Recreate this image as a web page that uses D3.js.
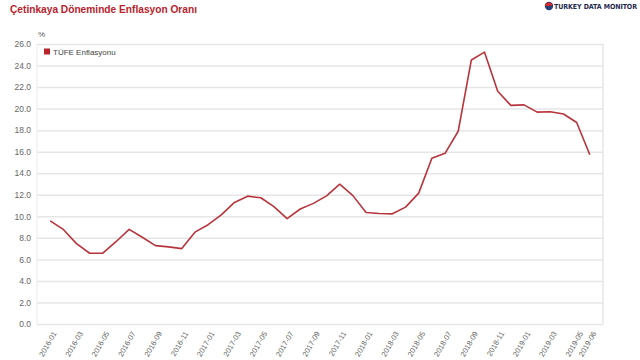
<!DOCTYPE html>
<html><head><meta charset="utf-8">
<script src="https://cdn.jsdelivr.net/npm/d3@7"></script>
<style>body{margin:0;background:#fff}svg{display:block}</style>
</head><body>
<svg id="c" width="640" height="360"></svg>
<script>
const months = ["2016-01","2016-02","2016-03","2016-04","2016-05","2016-06","2016-07","2016-08","2016-09","2016-10","2016-11","2016-12",
"2017-01","2017-02","2017-03","2017-04","2017-05","2017-06","2017-07","2017-08","2017-09","2017-10","2017-11","2017-12",
"2018-01","2018-02","2018-03","2018-04","2018-05","2018-06","2018-07","2018-08","2018-09","2018-10","2018-11","2018-12",
"2019-01","2019-02","2019-03","2019-04","2019-05","2019-06"];
const tufe = [9.58,8.78,7.46,6.57,6.58,7.64,8.79,8.05,7.28,7.16,7.00,8.53,
9.22,10.13,11.29,11.87,11.72,10.90,9.79,10.68,11.20,11.90,12.98,11.92,
10.35,10.26,10.23,10.85,12.15,15.39,15.85,17.90,24.52,25.24,21.62,20.30,
20.35,19.67,19.71,19.50,18.71,15.72];
const yTicks = [0,2,4,6,8,10,12,14,16,18,20,22,24,26];
const xTickLabels = ["2016-01","2016-03","2016-05","2016-07","2016-09","2016-11","2017-01","2017-03","2017-05","2017-07","2017-09","2017-11",
"2018-01","2018-03","2018-05","2018-07","2018-09","2018-11","2019-01","2019-03","2019-05","2019-06"];
const title = "Çetinkaya Döneminde Enflasyon Oranı";
const seriesName = "TÜFE Enflasyonu";

const svg = d3.select("#c");
const L = 37, R = 603, T = 44, B = 324;
const x = d3.scalePoint().domain(months).range([L, R]).padding(1);
const y = d3.scaleLinear().domain([0, 26]).range([B, T]);

// title
svg.append("text").attr("x", 10).attr("y", 13).text(title)
  .attr("font-family", "Liberation Sans, Arial, sans-serif").attr("font-weight", "bold")
  .attr("font-size", 10.8).attr("fill", "#b8232b").attr("textLength", 187).attr("lengthAdjust", "spacingAndGlyphs");

// logo
const lg = svg.append("g");
lg.append("circle").attr("cx", 549).attr("cy", 6).attr("r", 4.2).attr("fill", "#2a3f7a");
lg.append("path").attr("d", "M545,6 A4.2,4.2 0 0 1 553,5 L549,6 Z").attr("fill", "#d42a2a");
lg.append("text").attr("x", 554).attr("y", 9).text("TURKEY DATA MONITOR")
  .attr("font-family", "DejaVu Sans Condensed, DejaVu Sans, sans-serif").attr("font-weight", "bold")
  .attr("font-size", 7).attr("fill", "#1f2a50").attr("textLength", 83);

// gridlines
const yAxis = d3.axisLeft(y).tickValues(yTicks).tickFormat(d3.format(".1f")).tickSize(-(R - L)).tickPadding(6);
const gy = svg.append("g").attr("transform", `translate(${L},0)`).call(yAxis);
gy.select(".domain").remove();
gy.selectAll(".tick line").attr("stroke", "#e6e6e6").attr("stroke-width", 1.5);
gy.selectAll(".tick text").attr("font-family", "Liberation Sans, Arial, sans-serif").attr("font-size", 8.5).attr("fill", "#666");

// frame
svg.append("line").attr("x1", R).attr("x2", R).attr("y1", T).attr("y2", B).attr("stroke", "#e6e6e6").attr("stroke-width", 1.5);
svg.append("line").attr("x1", L).attr("x2", L).attr("y1", T).attr("y2", B).attr("stroke", "#ececec").attr("stroke-width", 1);

svg.append("text").attr("x", 38).attr("y", 37).text("%")
  .attr("font-family", "Liberation Sans, Arial, sans-serif").attr("font-size", 8).attr("fill", "#555");

// x axis
const xAxis = d3.axisBottom(x).tickValues(xTickLabels).tickSize(0).tickPadding(0);
const gx = svg.append("g").attr("transform", `translate(0,${B})`).call(xAxis);
gx.select(".domain").remove();
gx.selectAll(".tick text")
  .attr("font-family", "Liberation Sans, Arial, sans-serif").attr("font-size", 7.5).attr("fill", "#666")
  .attr("text-anchor", "end").attr("dy", "0.35em")
  .attr("transform", "translate(4,8) rotate(-60)");

// line
svg.append("path").datum(tufe)
  .attr("d", d3.line().x((d, i) => x(months[i])).y(d => y(d)))
  .attr("fill", "none").attr("stroke", "#b8343c").attr("stroke-width", 1.6).attr("stroke-linejoin", "round");

// legend
svg.append("rect").attr("x", 44).attr("y", 48.5).attr("width", 6).attr("height", 6).attr("fill", "#b8232b");
svg.append("text").attr("x", 53).attr("y", 54.5).text(seriesName)
  .attr("font-family", "Liberation Sans, Arial, sans-serif").attr("font-size", 8).attr("fill", "#444");
</script>
</body></html>
